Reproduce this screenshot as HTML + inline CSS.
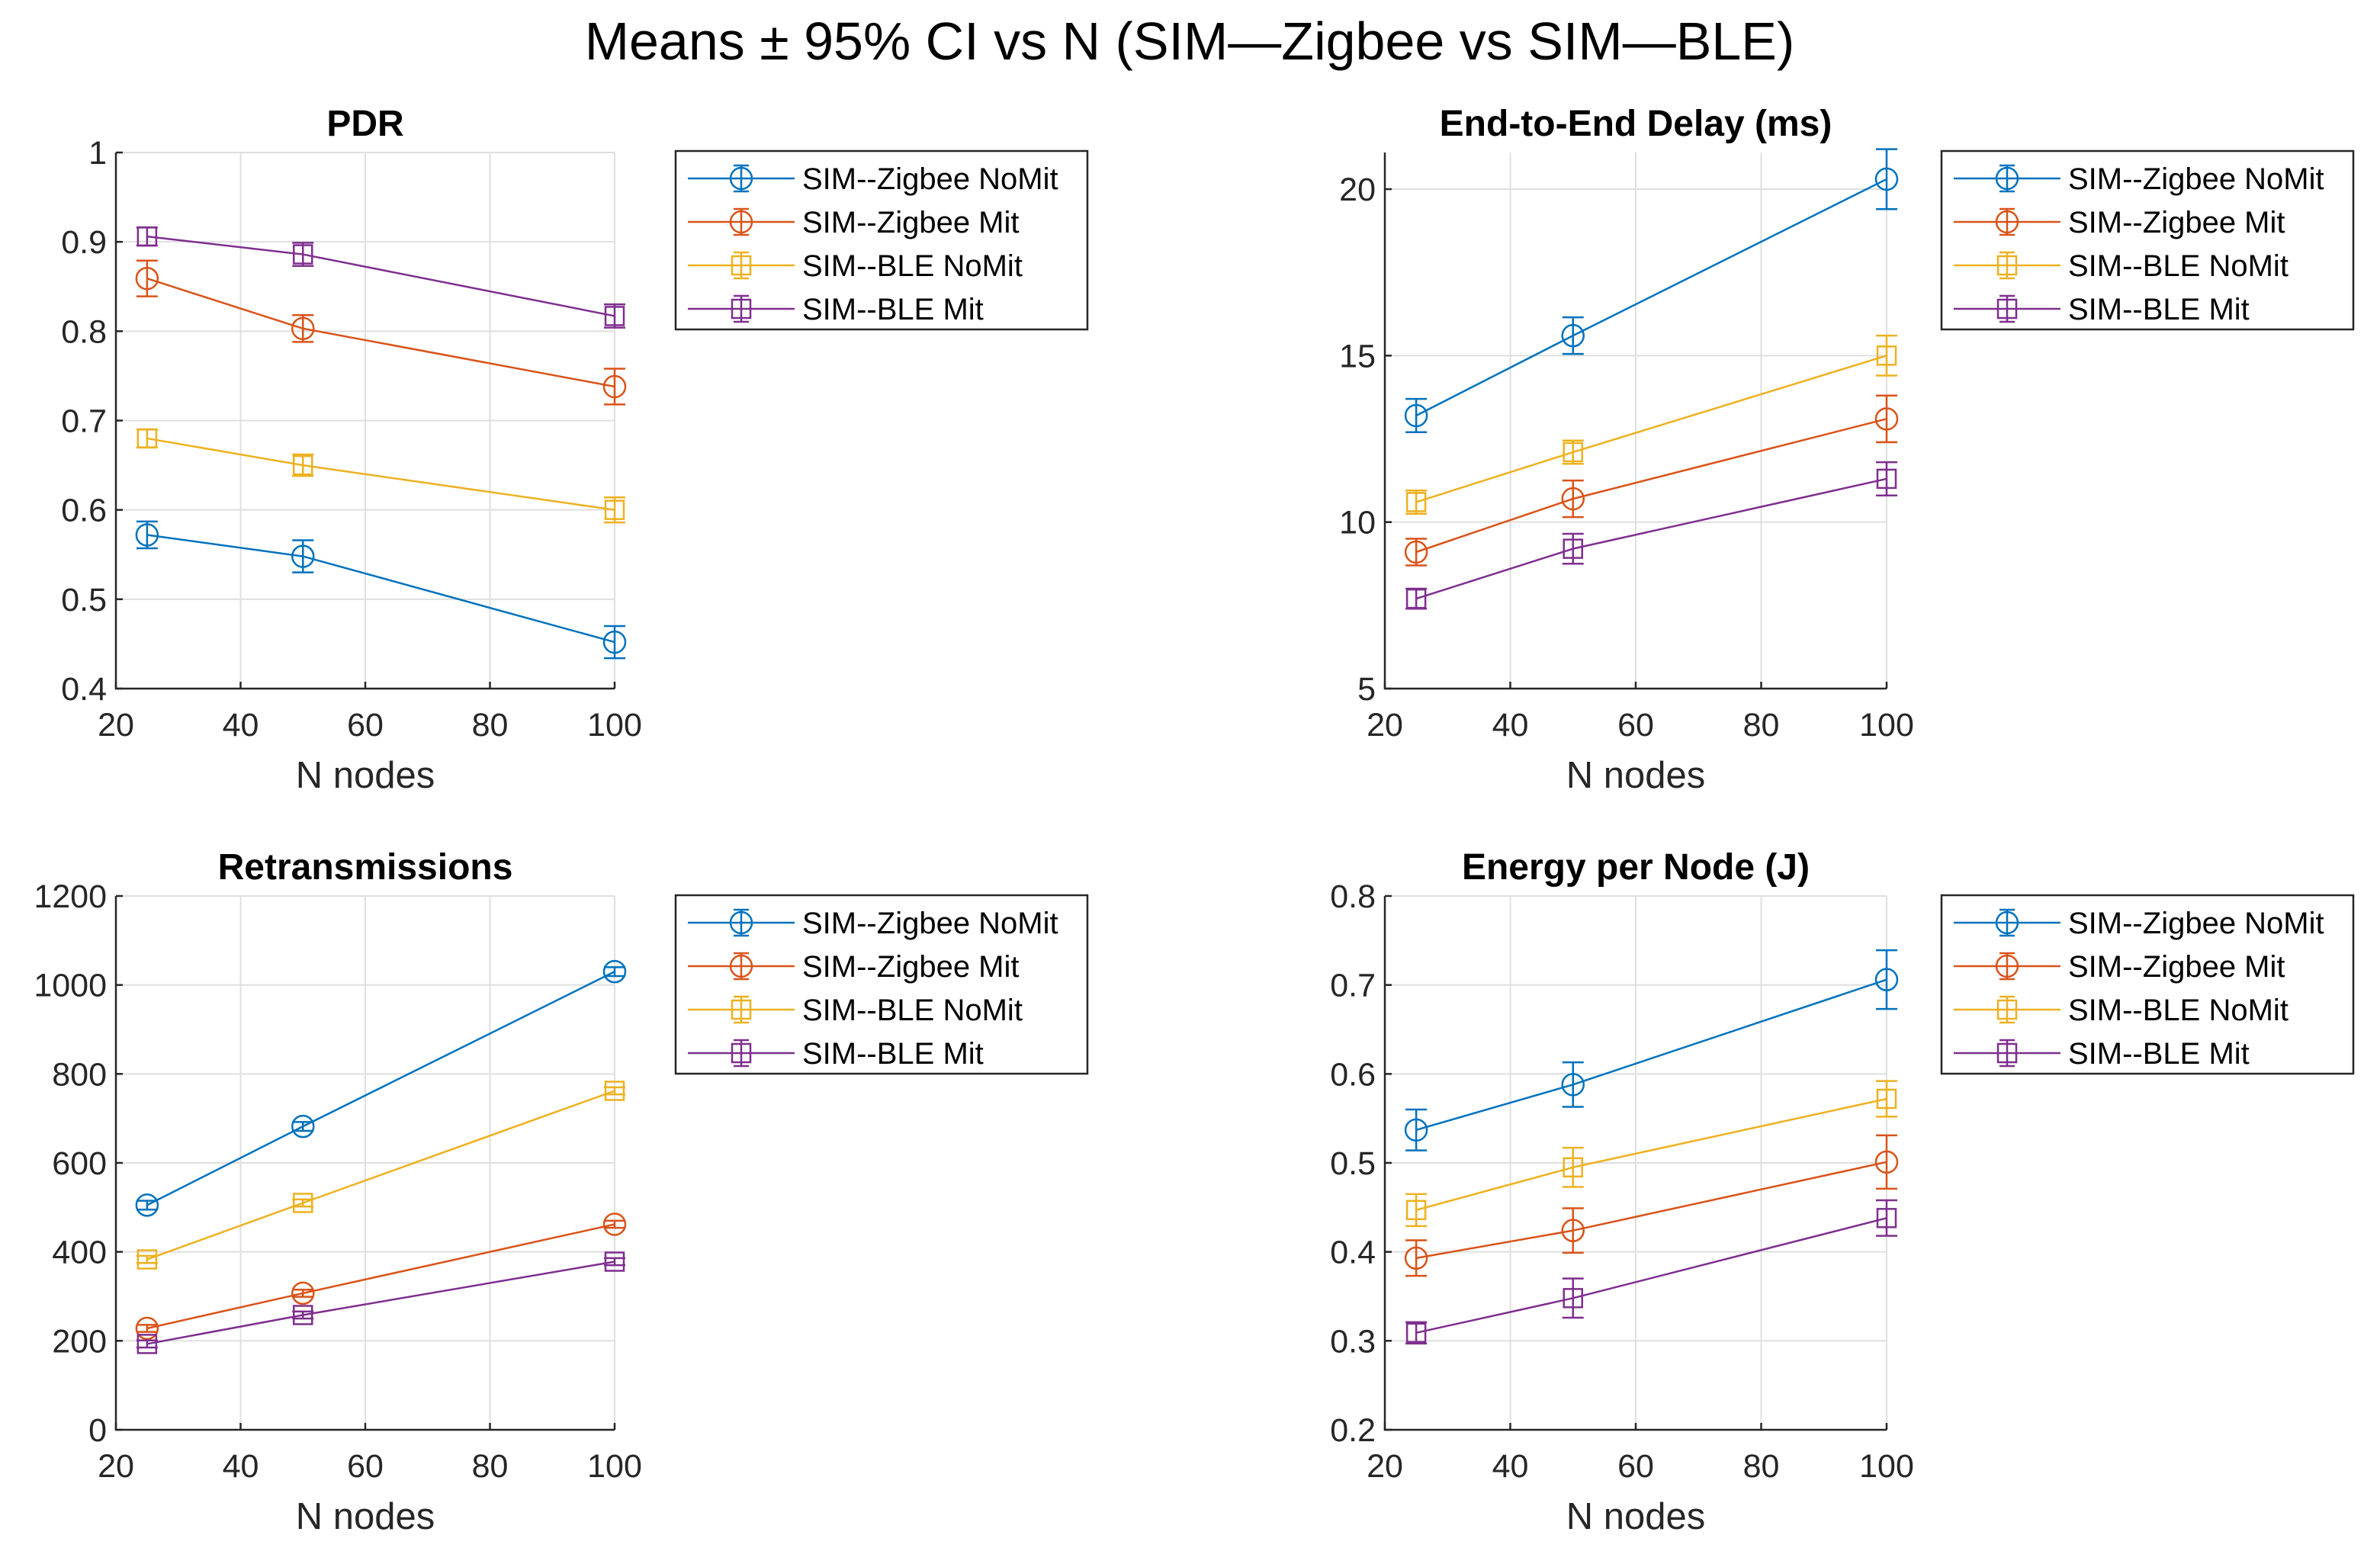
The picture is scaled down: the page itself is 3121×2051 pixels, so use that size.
<!DOCTYPE html>
<html><head><meta charset="utf-8">
<style>
html,body{margin:0;padding:0;background:#fff;}
svg{display:block;font-family:"Liberation Sans",Arial,sans-serif;}
</style></head>
<body>
<svg id="fig" width="3121" height="2051" viewBox="0 0 3121 2051" xmlns="http://www.w3.org/2000/svg">
<rect width="3121" height="2051" fill="#fff"/>
<text x="1560" y="78" font-size="70" text-anchor="middle" fill="#000">Means ± 95% CI vs N (SIM—Zigbee vs SIM—BLE)</text>
</svg>
<script>
const xN = [25, 50, 100];
const seriesNames = ["SIM--Zigbee NoMit", "SIM--Zigbee Mit", "SIM--BLE NoMit", "SIM--BLE Mit"];
const colors = ["#0072BD", "#D95319", "#EDB120", "#7E2F8E"];
const markers = ["o", "o", "s", "s"];
// PDR
const pdrZN = [0.572, 0.548, 0.452], pdrZNe = [0.015, 0.018, 0.018];
const pdrZM = [0.859, 0.803, 0.738], pdrZMe = [0.020, 0.015, 0.020];
const pdrBN = [0.680, 0.650, 0.600], pdrBNe = [0.010, 0.012, 0.014];
const pdrBM = [0.906, 0.886, 0.817], pdrBMe = [0.010, 0.013, 0.013];
const pdrTicks = [0.4, 0.5, 0.6, 0.7, 0.8, 0.9, 1];
const pdrTickLabels = ["0.4", "0.5", "0.6", "0.7", "0.8", "0.9", "1"];
// Delay
const dZN = [13.2, 15.6, 20.3], dZNe = [0.5, 0.55, 0.9];
const dZM = [9.1, 10.7, 13.1], dZMe = [0.4, 0.55, 0.7];
const dBN = [10.6, 12.1, 15.0], dBNe = [0.35, 0.35, 0.6];
const dBM = [7.7, 9.2, 11.3], dBMe = [0.3, 0.45, 0.5];
const dTicks = [5, 10, 15, 20];
const dTickLabels = ["5", "10", "15", "20"];
// Retransmissions
const rZN = [505, 682, 1030], rZNe = [10, 10, 10];
const rZM = [228, 307, 462], rZMe = [8, 8, 8];
const rBN = [383, 510, 762], rBNe = [8, 8, 8];
const rBM = [193, 258, 378], rBMe = [8, 8, 8];
const rTicks = [0, 200, 400, 600, 800, 1000, 1200];
const rTickLabels = ["0", "200", "400", "600", "800", "1000", "1200"];
// Energy
const eZN = [0.537, 0.588, 0.706], eZNe = [0.023, 0.025, 0.033];
const eZM = [0.393, 0.424, 0.501], eZMe = [0.020, 0.025, 0.030];
const eBN = [0.447, 0.495, 0.572], eBNe = [0.018, 0.022, 0.020];
const eBM = [0.309, 0.348, 0.438], eBMe = [0.012, 0.022, 0.020];
const eTicks = [0.2, 0.3, 0.4, 0.5, 0.6, 0.7, 0.8];
const eTickLabels = ["0.2", "0.3", "0.4", "0.5", "0.6", "0.7", "0.8"];
const xTicks = [20, 40, 60, 80, 100];
const xTickLabels = ["20", "40", "60", "80", "100"];

const NS = "http://www.w3.org/2000/svg";
const fig = document.getElementById("fig");
function mk(tag, attrs, parent) {
  const e = document.createElementNS(NS, tag);
  for (const k in attrs) e.setAttribute(k, attrs[k]);
  parent.appendChild(e);
  return e;
}
function drawMarker(g, type, cx, cy, color) {
  let m;
  if (type === "o") m = mk("circle", {cx: cx, cy: cy, r: 14, fill: "none", stroke: color, "stroke-width": 2.5}, g);
  else m = mk("rect", {x: cx - 12, y: cy - 12, width: 24, height: 24, fill: "none", stroke: color, "stroke-width": 2.5}, g);
  return m;
}
function panel(name, title, L, R, T, B, ymin, ymax, yTicks, yLabels, vals, errs, leg) {
  const g = mk("g", {}, fig);
  
  
  const sx = v => L + (v - 20) / 80 * (R - L);
  const sy = v => B - (v - ymin) / (ymax - ymin) * (B - T);
  xTicks.forEach((t, i) => {
    const gl = mk("line", {x1: sx(t), x2: sx(t), y1: T, y2: B, stroke: "#dfdfdf", "stroke-width": 2}, g);
    
    
  });
  yTicks.forEach(t => {
    const gl = mk("line", {x1: L, x2: R, y1: sy(t), y2: sy(t), stroke: "#dfdfdf", "stroke-width": 2}, g);
    
    
  });
  const ax = mk("path", {d: `M${L},${T} L${L},${B} L${R},${B}`, fill: "none", stroke: "#262626", "stroke-width": 2.5}, g);
  
  
  xTicks.forEach((t, i) => {
    mk("line", {x1: sx(t), x2: sx(t), y1: B, y2: B - 9, stroke: "#262626", "stroke-width": 2.5}, g);
    const tx = mk("text", {x: sx(t), y: B + 62, "font-size": 43, "text-anchor": "middle", fill: "#262626"}, g);
    tx.textContent = xTickLabels[i];
    
    
  });
  yTicks.forEach((t, i) => {
    mk("line", {x1: L, x2: L + 9, y1: sy(t), y2: sy(t), stroke: "#262626", "stroke-width": 2.5}, g);
    const tx = mk("text", {x: L - 12, y: sy(t) + 15, "font-size": 43, "text-anchor": "end", fill: "#262626"}, g);
    tx.textContent = yLabels[i];
    
    
  });
  const tt = mk("text", {x: (L + R) / 2, y: T - 22, "font-size": 48, "font-weight": "bold", "text-anchor": "middle", fill: "#000"}, g);
  tt.textContent = title;
  
  
  const xl = mk("text", {x: (L + R) / 2, y: B + 130, "font-size": 49, "text-anchor": "middle", fill: "#262626"}, g);
  xl.textContent = "N nodes";
  
  
  vals.forEach((arr, s) => {
    const c = colors[s];
    const sg = mk("g", {}, g);
    
    
    const pts = arr.map((v, i) => sx(xN[i]) + "," + sy(v)).join(" ");
    const pl = mk("polyline", {points: pts, fill: "none", stroke: c, "stroke-width": 2.5}, sg);
    
    
    arr.forEach((v, i) => {
      const x = sx(xN[i]), y1 = sy(v + errs[s][i]), y2 = sy(v - errs[s][i]);
      const eb = mk("path", {d: `M${x},${y1} L${x},${y2} M${x - 14},${y1} L${x + 14},${y1} M${x - 14},${y2} L${x + 14},${y2}`, fill: "none", stroke: c, "stroke-width": 2.5}, sg);
      
      
      const m = drawMarker(sg, markers[s], x, sy(v), c);
      
      
    });
  });
  const lg = mk("g", {}, g);
  
  
  mk("rect", {x: leg[0], y: leg[1], width: 540, height: 234, fill: "#fff", stroke: "#262626", "stroke-width": 2.5}, lg);
  seriesNames.forEach((n, s) => {
    const y = leg[1] + 36 + s * 57, x0 = leg[0] + 16;
    const eg = mk("g", {}, lg);
    
    
    mk("line", {x1: x0, x2: x0 + 140, y1: y, y2: y, stroke: colors[s], "stroke-width": 2.5}, eg);
    mk("path", {d: `M${x0 + 70},${y - 17} L${x0 + 70},${y + 17} M${x0 + 60},${y - 17} L${x0 + 80},${y - 17} M${x0 + 60},${y + 17} L${x0 + 80},${y + 17}`, stroke: colors[s], "stroke-width": 2.5, fill: "none"}, eg);
    drawMarker(eg, markers[s], x0 + 70, y, colors[s]);
    const t = mk("text", {x: x0 + 150, y: y + 14, "font-size": 40, fill: "#000"}, eg);
    t.textContent = n;
  });
}
panel("pdr", "PDR", 152, 806, 200, 903, 0.4, 1.0, pdrTicks, pdrTickLabels,
  [pdrZN, pdrZM, pdrBN, pdrBM], [pdrZNe, pdrZMe, pdrBNe, pdrBMe], [886, 198]);
panel("delay", "End-to-End Delay (ms)", 1816, 2474, 200, 903, 5, 21.1, dTicks, dTickLabels,
  [dZN, dZM, dBN, dBM], [dZNe, dZMe, dBNe, dBMe], [2546, 198]);
panel("retransmissions", "Retransmissions", 152, 806, 1175, 1875, 0, 1200, rTicks, rTickLabels,
  [rZN, rZM, rBN, rBM], [rZNe, rZMe, rBNe, rBMe], [886, 1174]);
panel("energy", "Energy per Node (J)", 1816, 2474, 1175, 1875, 0.2, 0.8, eTicks, eTickLabels,
  [eZN, eZM, eBN, eBM], [eZNe, eZMe, eBNe, eBMe], [2546, 1174]);
</script>
</body></html>
